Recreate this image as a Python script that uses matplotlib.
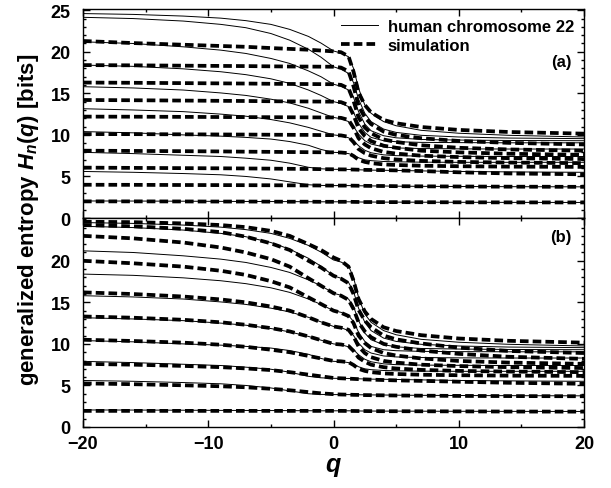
import matplotlib
matplotlib.use("Agg")
import matplotlib.pyplot as plt
from matplotlib.ticker import MultipleLocator

plt.rcParams['font.family'] = ['Liberation Sans', 'DejaVu Sans']
plt.rcParams['font.weight'] = 'bold'
plt.rcParams['mathtext.fontset'] = 'custom'
plt.rcParams['mathtext.it'] = 'Liberation Sans:bold:italic'
plt.rcParams['mathtext.rm'] = 'Liberation Sans:bold'
plt.rcParams['mathtext.bf'] = 'Liberation Sans:bold'

q = [-20, -16, -12, -9, -7, -5, -3.5, -2, -1, 0, 0.6, 1.2, 1.6, 2, 2.5, 3, 4, 5, 7, 10, 14, 20]

# human chromosome 22, n = 1..10 (same data in both panels)
chr_n1 = [2.05, 2.04, 2.02, 2.0, 1.99, 1.98, 1.97, 1.96, 1.95, 1.95, 1.95, 1.95, 1.94, 1.93, 1.92, 1.92, 1.91, 1.91, 1.9, 1.89, 1.88, 1.87]
chr_n2 = [5.6, 5.5, 5.35, 5.2, 5.0, 4.7, 4.35, 4.0, 3.92, 3.9, 3.9, 3.9, 3.89, 3.88, 3.87, 3.86, 3.85, 3.83, 3.81, 3.79, 3.77, 3.75]
chr_n3 = [7.9, 7.75, 7.55, 7.4, 7.2, 6.95, 6.6, 6.1, 5.92, 5.86, 5.85, 5.84, 5.83, 5.8, 5.78, 5.76, 5.74, 5.72, 5.67, 5.6, 5.55, 5.5]
chr_n4 = [10.4, 10.25, 10.0, 9.85, 9.7, 9.5, 9.2, 8.75, 8.25, 7.9, 7.87, 7.75, 7.55, 7.25, 7.0, 6.9, 6.8, 6.76, 6.72, 6.7, 6.7, 6.7]
chr_n5 = [13.15, 13.0, 12.8, 12.5, 12.25, 11.85, 11.45, 10.9, 10.45, 10.0, 9.9, 9.65, 9.3, 8.7, 8.15, 7.85, 7.6, 7.5, 7.45, 7.42, 7.4, 7.4]
chr_n6 = [15.8, 15.65, 15.4, 15.05, 14.75, 14.3, 13.85, 13.2, 12.65, 12.1, 11.95, 11.6, 11.0, 10.1, 9.3, 8.9, 8.55, 8.43, 8.36, 8.32, 8.3, 8.3]
chr_n7 = [18.4, 18.25, 17.95, 17.6, 17.25, 16.75, 16.2, 15.4, 14.75, 14.0, 13.8, 13.4, 12.7, 11.4, 10.3, 9.7, 9.3, 9.18, 9.1, 9.07, 9.05, 9.05]
chr_n8 = [21.2, 21.0, 20.6, 20.2, 19.8, 19.2, 18.6, 17.7, 17.0, 16.1, 15.85, 15.4, 14.5, 12.8, 11.3, 10.5, 9.9, 9.65, 9.45, 9.38, 9.33, 9.3]
chr_n9 = [24.15, 24.0, 23.7, 23.3, 22.9, 22.2, 21.4, 20.3, 19.35, 18.2, 17.9, 17.4, 16.3, 14.3, 12.6, 11.6, 10.7, 10.3, 9.95, 9.75, 9.62, 9.55]
chr_n10 = [24.6, 24.5, 24.3, 24.05, 23.75, 23.3, 22.7, 21.85, 21.05, 20.1, 19.85, 19.4, 18.0, 15.6, 13.6, 12.6, 11.6, 11.1, 10.55, 10.2, 9.95, 9.75]

# simulation, panel (a)
sa_n1 = [2.0, 2.0, 1.99, 1.98, 1.98, 1.97, 1.96, 1.96, 1.95, 1.95, 1.95, 1.95, 1.94, 1.93, 1.92, 1.92, 1.91, 1.91, 1.9, 1.89, 1.88, 1.87]
sa_n2 = [4.0, 3.99, 3.97, 3.96, 3.95, 3.94, 3.93, 3.92, 3.91, 3.9, 3.9, 3.9, 3.89, 3.88, 3.87, 3.86, 3.85, 3.83, 3.81, 3.79, 3.77, 3.75]
sa_n3 = [6.06, 6.03, 6.0, 5.98, 5.96, 5.94, 5.92, 5.9, 5.88, 5.86, 5.85, 5.84, 5.83, 5.81, 5.79, 5.78, 5.76, 5.73, 5.65, 5.5, 5.36, 5.26]
sa_n4 = [8.1, 8.07, 8.04, 8.01, 7.98, 7.96, 7.94, 7.92, 7.91, 7.9, 7.88, 7.8, 7.46, 7.0, 6.75, 6.6, 6.45, 6.38, 6.29, 6.23, 6.18, 6.15]
sa_n5 = [10.1, 10.09, 10.07, 10.05, 10.04, 10.02, 10.01, 10.0, 9.98, 9.97, 9.94, 9.77, 9.13, 8.3, 7.8, 7.5, 7.2, 7.04, 6.87, 6.75, 6.67, 6.6]
sa_n6 = [12.2, 12.19, 12.17, 12.15, 12.14, 12.13, 12.12, 12.11, 12.1, 12.1, 12.05, 11.8, 10.85, 9.6, 8.85, 8.4, 7.95, 7.75, 7.5, 7.33, 7.2, 7.1]
sa_n7 = [14.2, 14.17, 14.13, 14.1, 14.08, 14.05, 14.03, 14.02, 14.01, 14.0, 13.94, 13.6, 12.4, 10.8, 9.85, 9.25, 8.7, 8.45, 8.1, 7.9, 7.73, 7.6]
sa_n8 = [16.3, 16.27, 16.23, 16.2, 16.18, 16.15, 16.13, 16.12, 16.11, 16.1, 16.02, 15.6, 14.1, 12.1, 10.9, 10.2, 9.45, 9.15, 8.75, 8.45, 8.25, 8.1]
sa_n9 = [18.4, 18.37, 18.33, 18.3, 18.28, 18.25, 18.23, 18.22, 18.21, 18.2, 18.1, 17.65, 15.85, 13.5, 12.1, 11.3, 10.4, 10.0, 9.6, 9.27, 9.04, 8.85]
sa_n10 = [21.3, 21.05, 20.85, 20.7, 20.6, 20.45, 20.35, 20.25, 20.15, 20.05, 19.95, 19.45, 17.6, 15.1, 13.6, 12.7, 11.8, 11.4, 10.95, 10.6, 10.35, 10.15]

# simulation, panel (b)
sb_n1 = [1.94, 1.94, 1.94, 1.94, 1.94, 1.94, 1.94, 1.94, 1.94, 1.94, 1.94, 1.93, 1.93, 1.92, 1.92, 1.91, 1.9, 1.9, 1.89, 1.88, 1.86, 1.85]
sb_n2 = [5.25, 5.15, 5.02, 4.9, 4.78, 4.6, 4.42, 4.2, 4.05, 3.95, 3.91, 3.89, 3.87, 3.86, 3.84, 3.83, 3.81, 3.79, 3.77, 3.74, 3.72, 3.7]
sb_n3 = [7.6, 7.5, 7.35, 7.2, 7.05, 6.85, 6.6, 6.3, 6.1, 5.9, 5.86, 5.82, 5.79, 5.76, 5.73, 5.7, 5.65, 5.61, 5.55, 5.45, 5.32, 5.2]
sb_n4 = [10.5, 10.35, 10.15, 9.9, 9.65, 9.3, 9.0, 8.55, 8.25, 7.95, 7.9, 7.8, 7.46, 7.0, 6.75, 6.6, 6.45, 6.38, 6.29, 6.23, 6.18, 6.15]
sb_n5 = [13.3, 13.15, 12.9, 12.6, 12.3, 11.9, 11.5, 10.9, 10.45, 10.0, 9.93, 9.75, 9.15, 8.35, 7.85, 7.5, 7.2, 7.04, 6.87, 6.75, 6.67, 6.6]
sb_n6 = [16.2, 16.0, 15.7, 15.35, 15.0, 14.5, 14.0, 13.2, 12.6, 12.1, 11.95, 11.7, 10.9, 9.7, 8.9, 8.4, 7.95, 7.75, 7.5, 7.33, 7.2, 7.1]
sb_n7 = [20.0, 19.7, 19.3, 18.8, 18.3, 17.55, 16.8, 15.6, 14.8, 14.0, 13.75, 13.35, 12.5, 11.0, 10.1, 9.5, 8.9, 8.6, 8.25, 7.95, 7.75, 7.6]
sb_n8 = [23.0, 22.7, 22.2, 21.6, 21.0, 20.2, 19.3, 17.9, 17.0, 16.1, 15.8, 15.3, 14.2, 12.6, 11.5, 10.8, 10.0, 9.65, 9.2, 8.8, 8.45, 8.2]
sb_n9 = [24.3, 24.15, 23.85, 23.45, 22.9, 22.1, 21.3, 20.0, 19.2, 18.2, 17.85, 17.3, 16.0, 14.1, 12.8, 12.0, 11.0, 10.55, 10.05, 9.55, 9.15, 8.9]
sb_n10 = [24.7, 24.65, 24.5, 24.3, 24.05, 23.6, 23.0, 22.0, 21.3, 20.4, 20.0, 19.3, 17.6, 15.4, 13.9, 13.0, 12.0, 11.55, 11.05, 10.65, 10.37, 10.15]

chr_curves = [chr_n1, chr_n2, chr_n3, chr_n4, chr_n5, chr_n6, chr_n7, chr_n8, chr_n9, chr_n10]
sim_a = [sa_n1, sa_n2, sa_n3, sa_n4, sa_n5, sa_n6, sa_n7, sa_n8, sa_n9, sa_n10]
sim_b = [sb_n1, sb_n2, sb_n3, sb_n4, sb_n5, sb_n6, sb_n7, sb_n8, sb_n9, sb_n10]

W, H = 611, 489
fig = plt.figure(figsize=(W / 100, H / 100), dpi=100)
left, right = 83 / W, 584 / W
ax_a = fig.add_axes([left, 1 - 219 / H, right - left, 209 / H])
ax_b = fig.add_axes([left, 1 - 428 / H, right - left, 209 / H])

for ax, sims, tag in [(ax_a, sim_a, "(a)"), (ax_b, sim_b, "(b)")]:
    for i, c in enumerate(chr_curves):
        ax.plot(q, c, color="black", lw=0.7,
                label="human chromosome 22" if i == 0 else None)
    for i, s in enumerate(sims):
        ax.plot(q, s, color="black", lw=2.7, dashes=(2.3, 1.1),
                label="simulation" if i == 0 else None)
    ax.set_xlim(-20, 20)
    ax.set_ylim(0, 25.15)
    ax.xaxis.set_major_locator(MultipleLocator(10))
    ax.xaxis.set_minor_locator(MultipleLocator(5))
    ax.yaxis.set_major_locator(MultipleLocator(5))
    ax.yaxis.set_minor_locator(MultipleLocator(1))
    ax.tick_params(which="both", direction="in", top=True, right=True,
                   labelsize=13, width=1)
    ax.tick_params(which="major", length=5)
    ax.tick_params(which="minor", length=2.5)
    ax.tick_params(axis="y", pad=9)
    ax.tick_params(axis="x", pad=6)
    for sp in ax.spines.values():
        sp.set_linewidth(1)
    ax.text(0.975, 0.75 if tag == "(a)" else 0.91, tag, transform=ax.transAxes,
            ha="right", va="center", fontsize=12, fontweight="bold")

ax_a.tick_params(labelbottom=False)
ax_b.set_yticks([0, 5, 10, 15, 20])
ax_b.set_xticks([-20, -10, 0, 10, 20])

ax_a.legend(loc="upper right", frameon=False, fontsize=12,
            handlelength=2.2, handletextpad=0.6, labelspacing=0.25,
            borderaxespad=0.2, bbox_to_anchor=(1.0, 1.0))

fig.text(333 / W, 1 - 467 / H, "$q$", ha="center", va="center", fontsize=18)
fig.text(29 / W, 1 - 220 / H, "generalized entropy $H_n(q)$ [bits]",
         rotation=90, ha="center", va="center", fontsize=16, fontweight="bold")

fig.savefig("out.png", dpi=100)
